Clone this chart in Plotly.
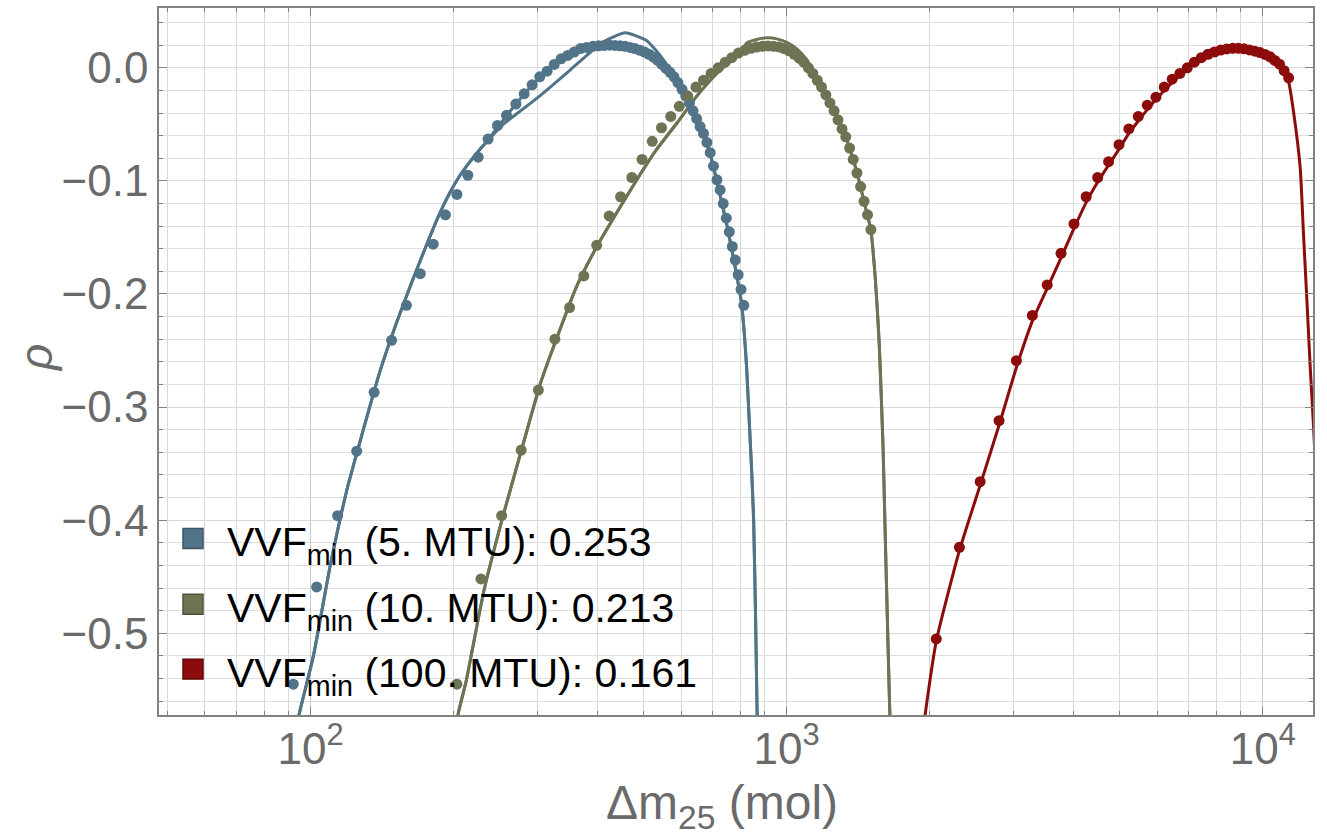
import plotly.graph_objects as go

# ---------------------------------------------------------------
# Measured points (Δm25 in mol, ρ) for three MTU settings
# ---------------------------------------------------------------
BLUE_DM = [92, 103, 114, 125, 136, 148, 159, 170, 181, 192, 203, 214, 225, 236,
           247, 258, 270, 281, 292, 303, 314, 325, 336, 347, 358, 369, 380, 392,
           403, 414, 425, 436, 447, 458, 469, 480, 492, 503, 514, 525, 536, 547,
           558, 569, 580, 591, 603, 614, 625, 636, 647, 658, 669, 680, 691, 702,
           714, 725, 736, 747, 758, 769, 780, 791, 802, 813]
BLUE_RHO = [-0.545, -0.459, -0.396, -0.339, -0.287, -0.241, -0.210, -0.182,
            -0.156, -0.130, -0.112, -0.095, -0.079, -0.063, -0.051, -0.042,
            -0.032, -0.023, -0.015, -0.008, -0.003, 0.003, 0.008, 0.011, 0.014,
            0.017, 0.018, 0.019, 0.0195, 0.0198, 0.020, 0.0198, 0.0195, 0.019,
            0.018, 0.017, 0.0155, 0.014, 0.012, 0.0095, 0.0065, 0.003, -0.0005,
            -0.004, -0.008, -0.013, -0.019, -0.025, -0.031, -0.038, -0.045,
            -0.052, -0.058, -0.066, -0.075, -0.087, -0.099, -0.108, -0.120,
            -0.133, -0.145, -0.158, -0.170, -0.183, -0.196, -0.210]

GREEN_DM = [203, 228, 252, 277, 301, 326, 350, 375, 399, 424, 448, 473, 497, 522,
            546, 571, 595, 620, 645, 669, 694, 718, 743, 767, 792, 816, 841, 865,
            890, 914, 939, 963, 988, 1012, 1037, 1062, 1086, 1111, 1135, 1160,
            1184, 1209, 1233, 1258, 1282, 1307, 1331, 1356, 1380, 1405, 1430,
            1454, 1479, 1503]
GREEN_RHO = [-0.545, -0.452, -0.396, -0.338, -0.285, -0.240, -0.212, -0.184,
             -0.157, -0.131, -0.114, -0.097, -0.081, -0.065, -0.053, -0.043,
             -0.034, -0.025, -0.017, -0.011, -0.005, 0.000, 0.005, 0.009, 0.013,
             0.0155, 0.0172, 0.0184, 0.019, 0.0194, 0.019, 0.0185, 0.017, 0.015,
             0.012, 0.0085, 0.005, 0.000, -0.005, -0.011, -0.017, -0.024, -0.031,
             -0.038, -0.046, -0.054, -0.061, -0.071, -0.081, -0.093, -0.105,
             -0.118, -0.130, -0.143]

RED_DM = [2062, 2306, 2550, 2794, 3038, 3282, 3526, 3770, 4014, 4258, 4502,
          4746, 4990, 5234, 5478, 5722, 5966, 6210, 6454, 6698, 6942, 7186,
          7430, 7674, 7918, 8162, 8406, 8650, 8894, 9138, 9382, 9626, 9870,
          10114, 10358, 10602, 10846, 11090, 11334]
RED_RHO = [-0.505, -0.424, -0.366, -0.312, -0.259, -0.219, -0.192, -0.164,
           -0.138, -0.114, -0.097, -0.083, -0.068, -0.054, -0.043, -0.033,
           -0.026, -0.017, -0.010, -0.005, 0.000, 0.005, 0.009, 0.012, 0.014,
           0.0157, 0.0167, 0.0172, 0.0172, 0.0168, 0.0158, 0.0147, 0.0135,
           0.0118, 0.0098, 0.0065, 0.0032, -0.0025, -0.0088]

# ---------------------------------------------------------------
# Fitted curves (two fits each for 5 and 10 MTU, one for 100 MTU)
# ---------------------------------------------------------------
BLUE_FIT1_DM = [92.1, 94.6, 101.4, 109.9, 119.1, 129.1, 140.0, 151.7, 164.4,
                178.2, 187.1, 196.4, 206.1, 216.3, 227.0, 234.9, 253.8, 298.7,
                350.9, 380.4, 412.2, 457.8, 508.6, 551.1, 587.9, 627.1, 668.7,
                690.6, 718.0, 749.9, 779.5, 802.6, 814.3, 824.1, 834.1, 844.3,
                852.5, 860.8, 867.1, 873.5]
BLUE_FIT1_RHO = [-0.600, -0.572, -0.520, -0.441, -0.374, -0.320, -0.268, -0.225,
                 -0.186, -0.149, -0.128, -0.110, -0.095, -0.083, -0.072, -0.065,
                 -0.050, -0.027, -0.002, 0.011, 0.023, 0.031, 0.024, 0.007,
                 -0.014, -0.034, -0.058, -0.076, -0.105, -0.140, -0.176, -0.206,
                 -0.233, -0.265, -0.310, -0.356, -0.400, -0.489, -0.572, -0.612]

BLUE_FIT2_DM = [92.1, 94.6, 101.4, 109.9, 119.1, 129.1, 140.0, 151.7, 164.4,
                178.2, 187.1, 196.4, 206.1, 216.3, 227.0, 234.9, 246.5, 257.4,
                268.9, 280.0, 291.3, 302.5, 313.5, 323.7, 345.3, 368.3, 386.5,
                405.7, 425.8, 446.9, 469.1, 492.3, 516.7, 538.0, 560.3, 578.5,
                597.5, 617.1, 635.3, 652.8, 668.7, 690.6, 718.0, 749.9, 779.5,
                802.6, 814.3, 824.1, 834.1, 844.3, 852.5, 860.8, 867.1, 873.5]
BLUE_FIT2_RHO = [-0.600, -0.572, -0.520, -0.441, -0.374, -0.320, -0.268, -0.225,
                 -0.186, -0.149, -0.128, -0.110, -0.095, -0.083, -0.072, -0.065,
                 -0.053, -0.043, -0.033, -0.024, -0.016, -0.009, -0.003, 0.002,
                 0.010, 0.016, 0.0185, 0.0195, 0.020, 0.0195, 0.018, 0.0155,
                 0.012, 0.0065, 0.000, -0.008, -0.017, -0.027, -0.037, -0.048,
                 -0.058, -0.076, -0.105, -0.140, -0.176, -0.206, -0.233, -0.265,
                 -0.310, -0.356, -0.400, -0.489, -0.572, -0.612]

GREEN_FIT1_DM = [201.7, 204.1, 212.1, 231.4, 253.8, 278.2, 303.5, 329.0, 362.4,
                 399.4, 439.9, 484.5, 533.7, 587.9, 647.6, 713.4, 786.1, 825.0,
                 866.1, 908.8, 953.7, 1001, 1050.5, 1102.6, 1157, 1215, 1275,
                 1338, 1404, 1450, 1474, 1503, 1519, 1534, 1549, 1564, 1579, 1595,
                 1610, 1626, 1642, 1658]
GREEN_FIT1_RHO = [-0.600, -0.572, -0.543, -0.462, -0.396, -0.336, -0.280, -0.239,
                  -0.193, -0.158, -0.128, -0.099, -0.072, -0.049, -0.025, -0.005,
                  0.011, 0.022, 0.025, 0.0265, 0.0256, 0.0225, 0.0168, 0.0071,
                  -0.008, -0.026, -0.044, -0.064, -0.092, -0.116, -0.1285, -0.143,
                  -0.162, -0.184, -0.211, -0.242, -0.286, -0.339, -0.409, -0.480,
                  -0.550, -0.612]

GREEN_FIT2_DM = [201.7, 204.1, 212.1, 231.4, 253.8, 278.2, 303.5, 329.0, 362.4,
                 399.4, 439.9, 484.5, 533.7, 587.9, 647.6, 713.4, 786.1, 825.0,
                 866.1, 908.8, 953.7, 1001, 1050.5, 1102.6, 1157, 1215, 1275,
                 1338, 1404, 1450, 1474, 1503, 1519, 1534, 1549, 1564, 1579, 1595,
                 1610, 1626, 1642, 1658]
GREEN_FIT2_RHO = [-0.600, -0.572, -0.543, -0.462, -0.396, -0.336, -0.280, -0.239,
                  -0.193, -0.158, -0.128, -0.099, -0.072, -0.049, -0.025, -0.005,
                  0.011, 0.0154, 0.018, 0.019, 0.0185, 0.016, 0.0115, 0.0035,
                  -0.008, -0.026, -0.044, -0.064, -0.092, -0.116, -0.1285, -0.143,
                  -0.162, -0.184, -0.211, -0.242, -0.286, -0.339, -0.409, -0.480,
                  -0.550, -0.612]

RED_FIT_DM = [1917, 1954, 2062, 2306, 2550, 2794, 3038, 3282, 3526, 3770, 4014,
              4258, 4502, 4746, 4990, 5234, 5478, 5722, 5966, 6454, 6942, 7430,
              7918, 8406, 8894, 9382, 9870, 10358, 10846, 11330, 11606, 11989,
              12181, 12384, 12584, 12767, 12953]
RED_FIT_RHO = [-0.600, -0.572, -0.507, -0.427, -0.369, -0.316, -0.265, -0.224,
               -0.195, -0.168, -0.142, -0.119, -0.101, -0.086, -0.072, -0.058,
               -0.047, -0.037, -0.028, -0.013, -0.001, 0.009, 0.0155, 0.019,
               0.020, 0.0185, 0.015, 0.010, 0.0035, -0.0123, -0.0388, -0.0888,
               -0.1475, -0.2063, -0.2652, -0.312, -0.365]

LEGEND_LABELS = ["VVF<sub>min</sub> (5. MTU): 0.253",
                 "VVF<sub>min</sub> (10. MTU): 0.213",
                 "VVF<sub>min</sub> (100. MTU): 0.161"]

X_TICKS = [100, 1000, 10000]
X_TICK_TEXT = ["10<sup>2</sup>", "10<sup>3</sup>", "10<sup>4</sup>"]
X_MINOR = [50, 60, 70, 80, 90, 200, 300, 400, 500, 600, 700, 800, 900,
           2000, 3000, 4000, 5000, 6000, 7000, 8000, 9000]

BLUE = "#527489"
GREEN = "#6d7453"
RED = "#8c0b0b"
SWATCH_EDGE = ["#3c5566", "#4f553b", "#600808"]
COLORS = [BLUE, GREEN, RED]

FONT = "Liberation Sans, Arial, Helvetica, sans-serif"
AXIS_GRAY = "#6a6a6a"
FRAME = "#828282"

# plot-area placement in pixels
W, H = 1327, 835
L, R, T, B = 159, 14, 6, 120
PW, PH = W - L - R, H - T - B


def paper_x(px):
    return (px - L) / PW


def paper_y(py):
    return (H - B - py) / PH


fig = go.Figure()

fits = [
    (BLUE_FIT1_DM, BLUE_FIT1_RHO, BLUE),
    (BLUE_FIT2_DM, BLUE_FIT2_RHO, BLUE),
    (GREEN_FIT1_DM, GREEN_FIT1_RHO, GREEN),
    (GREEN_FIT2_DM, GREEN_FIT2_RHO, GREEN),
    (RED_FIT_DM, RED_FIT_RHO, RED),
]
for xs, ys, c in fits:
    fig.add_trace(go.Scatter(
        x=xs, y=ys, mode="lines",
        line=dict(color=c, width=3, shape="spline", smoothing=0.5),
        hoverinfo="skip", showlegend=False))

points = [
    (BLUE_DM, BLUE_RHO, BLUE),
    (GREEN_DM, GREEN_RHO, GREEN),
    (RED_DM, RED_RHO, RED),
]
for xs, ys, c in points:
    fig.add_trace(go.Scatter(
        x=xs, y=ys, mode="markers",
        marker=dict(color=c, size=11, line=dict(width=0)),
        showlegend=False))

y_range = [-0.5723, 0.0529]

fig.update_layout(
    width=W, height=H,
    margin=dict(l=L, r=R, t=T, b=B),
    paper_bgcolor="white", plot_bgcolor="white",
    font=dict(family=FONT),
    showlegend=False,
    xaxis=dict(
        type="log", range=[1.6817, 4.1056],
        tickmode="array", tickvals=X_TICKS, ticktext=X_TICK_TEXT,
        tickfont=dict(size=44, color=AXIS_GRAY, family=FONT),
        ticks="inside", ticklen=8, tickwidth=1.2, tickcolor=FRAME,
        ticklabelstandoff=-6,
        showgrid=True, gridcolor="#c9c9c9", gridwidth=1,
        showline=True, linecolor=FRAME, linewidth=1.6, mirror="ticks",
        zeroline=False,
        minor=dict(tickmode="array", tickvals=X_MINOR, ticks="inside",
                   ticklen=4, tickcolor=FRAME, showgrid=True,
                   gridcolor="#d9d9d9", gridwidth=1),
    ),
    yaxis=dict(
        range=y_range, tick0=0, dtick=0.1, tickformat=".1f",
        tickfont=dict(size=44, color=AXIS_GRAY, family=FONT),
        ticks="inside", ticklen=8, tickwidth=1.2, tickcolor=FRAME,
        ticklabelstandoff=0,
        showgrid=True, gridcolor="#dadada", gridwidth=1,
        showline=True, linecolor=FRAME, linewidth=1.6, mirror="ticks",
        zeroline=False,
        minor=dict(dtick=0.02, tick0=0, ticks="inside", ticklen=4,
                   tickcolor=FRAME, showgrid=True, gridcolor="#dedede",
                   gridwidth=1),
    ),
    yaxis2=dict(
        overlaying="y", anchor="x", range=y_range, tick0=0, dtick=0.04,
        showticklabels=False, ticks="", showline=False, zeroline=False,
        showgrid=True, gridcolor="#cbcbcb", gridwidth=1,
    ),
)

# legend drawn as swatches + labels inside the frame
row_centers = [538, 604, 669]
shapes = []
annotations = []
for label, c, edge, yc in zip(LEGEND_LABELS, COLORS, SWATCH_EDGE, row_centers):
    shapes.append(dict(
        type="rect", xref="paper", yref="paper",
        x0=paper_x(183), x1=paper_x(203),
        y0=paper_y(yc + 10), y1=paper_y(yc - 10),
        fillcolor=c, line=dict(color=edge, width=1.5), layer="above"))
    annotations.append(dict(
        xref="paper", yref="paper", x=paper_x(225), y=paper_y(yc + 7),
        xanchor="left", yanchor="middle", showarrow=False,
        text=label, font=dict(size=41, color="black", family=FONT)))

annotations.append(dict(
    xref="paper", yref="paper", x=paper_x(722), y=paper_y(806),
    xanchor="center", yanchor="middle", showarrow=False,
    text="Δm<sub>25</sub> (mol)",
    font=dict(size=48, color=AXIS_GRAY, family=FONT)))
annotations.append(dict(
    xref="paper", yref="paper", x=paper_x(36), y=paper_y(357),
    xanchor="center", yanchor="middle", showarrow=False, textangle=-90,
    text="<i>ρ</i>", font=dict(size=46, color=AXIS_GRAY, family=FONT)))

fig.update_layout(shapes=shapes, annotations=annotations)

fig.write_html("out.html")
